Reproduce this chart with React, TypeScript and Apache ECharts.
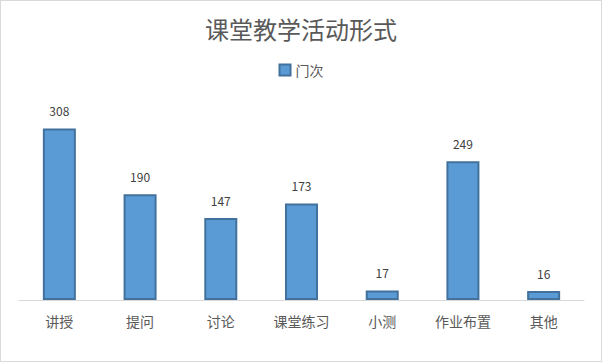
import React, { useEffect, useRef } from "react";
import * as echarts from "echarts";

const categories = ["讲授", "提问", "讨论", "课堂练习", "小测", "作业布置", "其他"];
const values = [308, 190, 147, 173, 17, 249, 16];
const seriesName = "门次";
const titleText = "课堂教学活动形式";

export default function App() {
  const ref = useRef<HTMLDivElement>(null);
  useEffect(() => {
    const chart = echarts.init(ref.current!, null, { renderer: "svg" });
    const font = "'Noto Sans CJK SC', 'Microsoft YaHei', sans-serif";
    chart.setOption({
      animation: false,
      backgroundColor: "#ffffff",
      title: {
        text: titleText,
        left: "center",
        top: 10,
        textStyle: { fontSize: 24, fontWeight: "normal", color: "#595959", fontFamily: font },
      },
      legend: {
        top: 57,
        left: "center",
        itemWidth: 11,
        itemHeight: 11,
        itemGap: 6,
        icon: "rect",
        textStyle: { fontSize: 14, color: "#595959", fontFamily: font },
        data: [seriesName],
      },
      grid: { left: 18, right: 17, top: 104, bottom: 61, containLabel: false },
      xAxis: {
        type: "category",
        data: categories,
        axisLine: { lineStyle: { color: "#d9d9d9", width: 1 } },
        axisTick: { show: false },
        axisLabel: { fontSize: 14, color: "#595959", margin: 14, fontFamily: font },
      },
      yAxis: {
        type: "value",
        min: 0,
        max: 350,
        show: false,
        splitLine: { show: false },
      },
      series: [
        {
          name: seriesName,
          type: "bar",
          data: values,
          barWidth: 33,
          itemStyle: { color: "#5B9BD5", borderColor: "#41719C", borderWidth: 2 },
          label: {
            show: true,
            position: "top",
            distance: 12,
            fontSize: 12,
            color: "#404040",
            fontFamily: font,
          },
        },
      ],
    });
    return () => chart.dispose();
  }, []);
  return (
    <div
      style={{
        position: "fixed",
        left: 0,
        top: 0,
        width: 602,
        height: 362,
        boxSizing: "border-box",
        border: "1px solid #d9d9d9",
        background: "#fff",
      }}
    >
      <div ref={ref} style={{ width: 600, height: 360 }} />
    </div>
  );
}
